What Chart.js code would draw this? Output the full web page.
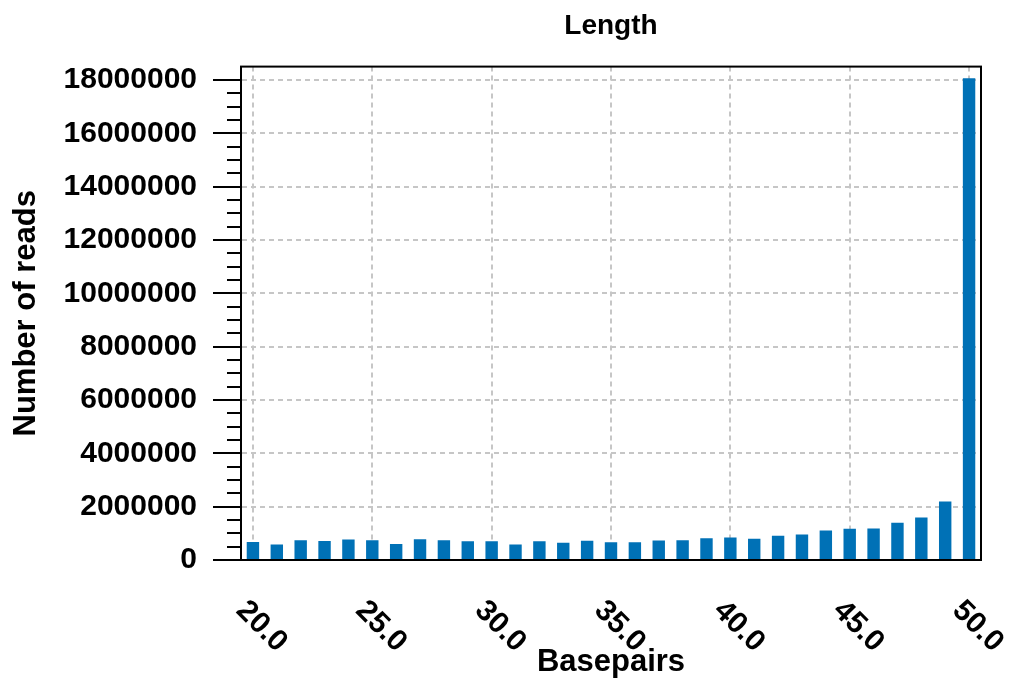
<!DOCTYPE html>
<html>
<head>
<meta charset="utf-8">
<title>Length</title>
<script src="https://cdn.jsdelivr.net/npm/chart.js@4"></script>
<style>
    html, body { margin: 0; padding: 0; background: #ffffff; }
    #chartBox { width: 1013px; height: 686px; }
</style>
</head>
<body>
<div id="chartBox"><canvas id="lengthChart"></canvas></div>
<script>
// Read lengths (basepairs) and read counts
const basepairs = [20, 21, 22, 23, 24, 25, 26, 27, 28, 29, 30, 31, 32, 33, 34, 35,
    36, 37, 38, 39, 40, 41, 42, 43, 44, 45, 46, 47, 48, 49, 50];
const readCounts = [675000, 580000, 745000, 710000, 770000, 745000, 600000, 780000,
    745000, 700000, 700000, 580000, 700000, 645000, 720000, 670000, 670000, 730000,
    745000, 820000, 845000, 795000, 905000, 955000, 1105000, 1170000, 1180000,
    1400000, 1590000, 2190000, 18060000];
const yTickValues = [0, 2000000, 4000000, 6000000, 8000000, 10000000, 12000000,
    14000000, 16000000, 18000000];
const xLabelValues = [20, 25, 30, 35, 40, 45, 50];

const FONT = '"Liberation Sans", Arial, Helvetica, sans-serif';
const GRID_GREY = '#c6c6c6';

// Draws the box, the minor y ticks and the rotated x labels
const framePlugin = {
    id: 'frame',
    afterDraw(chart) {
        const ctx = chart.ctx;
        const area = chart.chartArea;
        const y = chart.scales.y;
        const x = chart.scales.x;

        ctx.save();
        ctx.strokeStyle = '#000000';
        ctx.lineWidth = 2;
        ctx.strokeRect(area.left, area.top, area.right - area.left, area.bottom - area.top);

        // minor ticks every 500000
        ctx.beginPath();
        for (let v = 500000; v < y.max; v += 500000) {
            if (v % 2000000 === 0) continue;
            const py = Math.round(y.getPixelForValue(v));
            ctx.moveTo(area.left - 14, py);
            ctx.lineTo(area.left, py);
        }
        ctx.stroke();

        // x labels, turned 45 degrees clockwise
        ctx.fillStyle = '#000000';
        ctx.font = 'bold 30px ' + FONT;
        ctx.textAlign = 'left';
        ctx.textBaseline = 'middle';
        xLabelValues.forEach(v => {
            const px = x.getPixelForValue(basepairs.indexOf(v));
            ctx.save();
            ctx.translate(px - 12, area.bottom + 46);
            ctx.rotate(Math.PI / 4);
            ctx.fillText(v.toFixed(1), 0, 0);
            ctx.restore();
        });
        ctx.restore();
    }
};

function buildChart() {
    const ctx = document.getElementById('lengthChart').getContext('2d');
    new Chart(ctx, {
        type: 'bar',
        data: {
            labels: basepairs,
            datasets: [{
                label: 'Number of reads',
                data: readCounts,
                backgroundColor: '#0071b6',
                borderWidth: 0,
                barPercentage: 0.52,
                categoryPercentage: 1.0
            }]
        },
        options: {
            responsive: true,
            maintainAspectRatio: false,
            animation: false,
            layout: { padding: { left: 0, right: 32, top: 0, bottom: 0 } },
            plugins: {
                legend: { display: false },
                tooltip: { enabled: false },
                title: {
                    display: true,
                    text: 'Length',
                    fullSize: false,
                    color: '#000000',
                    font: { family: FONT, size: 28, weight: 'bold' },
                    padding: { top: 9, bottom: 24 }
                }
            },
            scales: {
                x: {
                    offset: true,
                    grid: {
                        offset: false,
                        drawTicks: false,
                        lineWidth: 2,
                        color: c => (basepairs[c.index] % 5 === 0 ? GRID_GREY : 'rgba(0,0,0,0)')
                    },
                    border: { color: '#000000', width: 2, dash: [5, 4] },
                    ticks: { display: false },
                    title: {
                        display: true,
                        text: 'Basepairs',
                        color: '#000000',
                        font: { family: FONT, size: 31, weight: 'bold' },
                        padding: { top: 0, bottom: 5 }
                    },
                    afterFit: s => { s.height = 126; }
                },
                y: {
                    min: 0,
                    max: 18500000,
                    grid: {
                        lineWidth: 2,
                        color: GRID_GREY,
                        tickLength: 28,
                        tickColor: '#000000',
                        tickWidth: 2,
                        tickBorderDash: []
                    },
                    border: { color: '#000000', width: 2, dash: [5, 4] },
                    afterBuildTicks: s => {
                        s.ticks = yTickValues.map(v => ({ value: v }));
                    },
                    ticks: {
                        color: '#000000',
                        padding: 16,
                        font: { family: FONT, size: 30, weight: 'bold' },
                        callback: v => String(v)
                    },
                    title: {
                        display: true,
                        text: 'Number of reads',
                        color: '#000000',
                        font: { family: FONT, size: 31, weight: 'bold' },
                        padding: { top: 8, bottom: 0 }
                    },
                    afterFit: s => { s.width = 241; }
                }
            }
        },
        plugins: [framePlugin]
    });
}

document.addEventListener('DOMContentLoaded', buildChart);
</script>
</body>
</html>
